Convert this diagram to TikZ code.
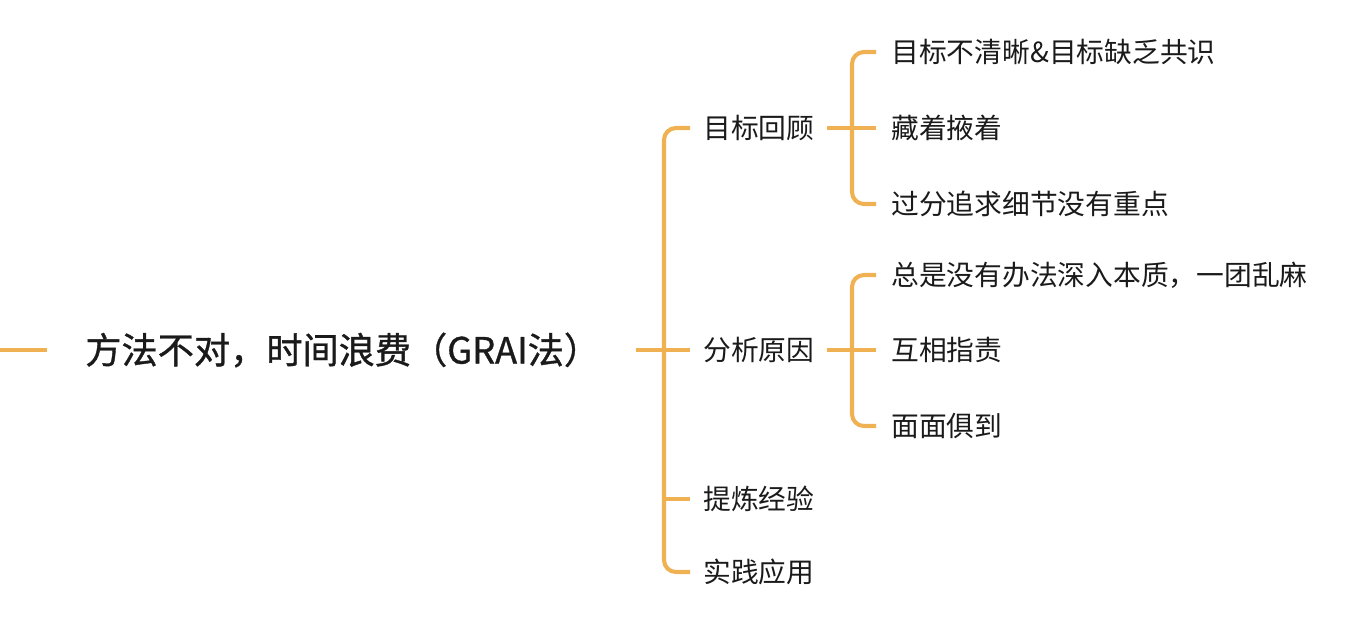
\documentclass[tikz,border=0pt]{standalone}
\usepackage{fontspec}
\setmainfont{Noto Sans CJK SC}
\newfontfamily\wurzelfont{Noto Sans CJK SC}[FakeBold=1]
\usepackage{tikz}
\usetikzlibrary{calc,positioning}
\definecolor{astfarbe}{HTML}{EFB151}
\definecolor{textfarbe}{HTML}{1A1A1A}
\tikzset{
  ast/.style={draw=astfarbe,line width=2.3pt,rounded corners=6.8pt},
  blatt/.style={anchor=west,inner sep=0pt,text=textfarbe,font=\fontsize{15.8}{18}\selectfont},
  wurzel/.style={anchor=west,inner sep=0pt,text=textfarbe,font=\wurzelfont\fontsize{20.6}{24}\selectfont}
}

\begin{document}
\begin{tikzpicture}[x=0.02cm,y=-0.02cm]
\useasboundingbox (0,0) rectangle (1370,640);
%Alle Werte in Pixel der Vorlage (1370x640), y zeigt nach unten
  \pgfmathsetmacro{\xEins}{703}
  \pgfmathsetmacro{\xZwei}{891}
\node[wurzel] (wurzel) at (85,350) {方法不对，时间浪费（GRAI法）};
\node[blatt] (ziel) at (\xEins,128) {目标回顾};
\node[blatt] (analyse) at (\xEins,350) {分析原因};
\node[blatt] (erfahrung) at (\xEins,499) {提炼经验};
\node[blatt] (praxis) at (\xEins,572) {实践应用};
\node[blatt] (zielA) at (\xZwei,52) {目标不清晰\&目标缺乏共识};
\node[blatt] (zielB) at (\xZwei,128) {藏着掖着};
\node[blatt] (zielC) at (\xZwei,204) {过分追求细节没有重点};
\node[blatt] (analyseA) at (\xZwei,275) {总是没有办法深入本质，一团乱麻};
\node[blatt] (analyseB) at (\xZwei,350) {互相指责};
\node[blatt] (analyseC) at (\xZwei,426) {面面俱到};
\coordinate (start) at (0,350);
\coordinate (stammA) at (664,350);
\coordinate (stammB) at (852,128);
%Wurzel
\draw[ast] (start) -- ($(wurzel.west)+(-38,0)$);
\draw[ast] ($(wurzel.east)+(36,0)$) -- (stammA);
%erste Ebene
\draw[ast] ($(ziel.west)+(-13,0)$) -| (stammA) |- ($(praxis.west)+(-13,0)$);
\draw[ast] (stammA) -- ($(analyse.west)+(-13,0)$);
\draw[ast] (stammA |- erfahrung.west) -- ($(erfahrung.west)+(-13,0)$);
%zweite Ebene
\foreach \k in {ziel,analyse}{
\draw[ast] ($(\k A.west)+(-15,0)$) -| (\k.east -| stammB) |- ($(\k C.west)+(-15,0)$);
\draw[ast] ($(\k.east)+(12,0)$) -- ($(\k B.west)+(-15,0)$);
}
\end{tikzpicture}
\end{document}
